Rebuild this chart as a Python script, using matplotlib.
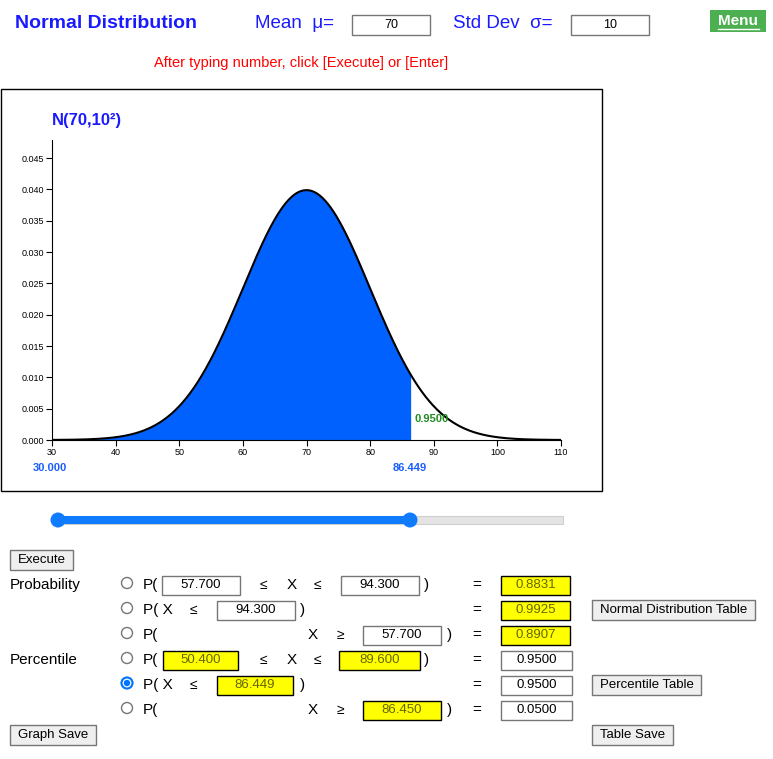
import numpy as np
import matplotlib
matplotlib.use("Agg")
import matplotlib.pyplot as plt
from matplotlib.patches import Rectangle, Circle

plt.rcParams['font.family'] = ['Liberation Sans', 'DejaVu Sans']

mu = 70
sigma = 10
x_lo = 30.000
x_hi = 86.449
prob_label = "0.9500"
xticks = [30, 40, 50, 60, 70, 80, 90, 100, 110]
yticks = [0.000, 0.005, 0.010, 0.015, 0.020, 0.025, 0.030, 0.035, 0.040, 0.045]
rows = [  # (y, parts)
    585, 610, 635, 660, 685, 710]

W, H = 773, 759
fig = plt.figure(figsize=(W/100, H/100), dpi=100)
bg = fig.add_axes([0, 0, 1, 1])
bg.set_xlim(0, W); bg.set_ylim(H, 0); bg.axis('off')

BLUE = '#1a1aff'

def box(x0, x1, yc, txt, fill='white', h=19, fs=9.5, tc='black', ec='#767676'):
    bg.add_patch(Rectangle((x0, yc-h/2), x1-x0, h, fc=fill, ec=ec, lw=1))
    bg.text((x0+x1)/2, yc, txt, ha='center', va='center', fontsize=fs, color=tc)

def button(x0, x1, yc, txt, h=20):
    bg.add_patch(Rectangle((x0, yc-h/2), x1-x0, h, fc='#efefef', ec='#767676', lw=1))
    bg.text((x0+x1)/2, yc, txt, ha='center', va='center', fontsize=9.5)

def t(x, y, s, fs=11, c='black', **kw):
    bg.text(x, y, s, fontsize=fs, color=c, va='center', **kw)

# header
t(15, 23, "Normal Distribution", fs=14, c=BLUE, weight='bold')
t(255, 23, "Mean  μ=", fs=13.5, c=BLUE)
box(352, 430, 25, str(mu), h=20, fs=9)
t(453, 23, "Std Dev  σ=", fs=13.5, c=BLUE)
box(571, 649, 25, str(sigma), h=20, fs=9)
bg.add_patch(Rectangle((710, 10), 56, 22, fc='#4caf50', ec='none'))
bg.text(738, 21, "Menu", ha='center', va='center', fontsize=11, color='white', weight='bold')
bg.plot([718, 759], [29, 29], color='white', lw=1)
t(301, 63, "After typing number, click [Execute] or [Enter]", fs=10.5, c='#ff0000', ha='center')

# chart frame
bg.add_patch(Rectangle((1, 89), 601, 402, fc='white', ec='black', lw=1))

ax = fig.add_axes([52/W, 1-440/H, (561-52)/W, 300/H])
ax.set_xlim(30, 110); ax.set_ylim(0, 0.0479)
xs = np.linspace(30, 110, 800)
pdf = np.exp(-0.5*((xs-mu)/sigma)**2)/(sigma*np.sqrt(2*np.pi))
m = (xs >= x_lo) & (xs <= x_hi)
ax.fill_between(xs[m], 0, pdf[m], color='#0061ff', lw=0)
ax.plot(xs, pdf, color='black', lw=1.5)
for s in ['top', 'right']:
    ax.spines[s].set_visible(False)
ax.set_xticks(xticks); ax.set_yticks(yticks)
ax.set_yticklabels([f"{v:.3f}" for v in yticks])
ax.tick_params(labelsize=6.5, length=4, pad=2, colors='black')
ax.set_facecolor('none')
ax.text(86.9, 0.0033, prob_label, color='#228b22', fontsize=8, weight='bold', va='center')

t(52, 120, "N(70,10²)", fs=12, c=BLUE, weight='bold')
t(33, 468, f"{x_lo:.3f}", fs=8, c='#1a5cff', weight='bold')
t(393, 468, f"{x_hi:.3f}", fs=8, c='#1a5cff', weight='bold')

# slider
bg.add_patch(Rectangle((58, 516), 505, 8, fc='#e4e4e4', ec='#cfcfcf', lw=0.8))
bg.add_patch(Rectangle((58, 516), 410-58, 8, fc='#0f7bff', ec='none'))
for cx in (58, 410):
    bg.add_patch(Circle((cx, 520), 7.5, fc='#0f7bff', ec='none'))

# controls
button(10, 73, 560, "Execute")
t(10, 585, "Probability", fs=11)
t(10, 660, "Percentile", fs=11)

def radio(y, on=False):
    bg.add_patch(Circle((127, y-2), 5.5, fc='white', ec='#767676', lw=1))
    if on:
        bg.add_patch(Circle((127, y-2), 5.5, fc='white', ec='#0075ff', lw=1.5))
        bg.add_patch(Circle((127, y-2), 3.2, fc='#0075ff', ec='none'))

Y = '#ffff00'
# row 1
y = rows[0]; radio(y); t(143, y, "P(", fs=11)
box(162, 240, y, "57.700"); t(260, y, "≤", fs=10); t(287, y, "X", fs=11); t(314, y, "≤", fs=10)
box(341, 419, y, "94.300"); t(424, y, ")", fs=11); t(472, y, "=", fs=11)
box(501, 570, y, "0.8831", fill=Y, tc='#666600', ec='black')
# row 2
y = rows[1]; radio(y); t(143, y, "P( X", fs=11); t(190, y, "≤", fs=10)
box(217, 295, y, "94.300"); t(300, y, ")", fs=11); t(472, y, "=", fs=11)
box(501, 570, y, "0.9925", fill=Y, tc='#666600', ec='black')
button(592, 755, y, "Normal Distribution Table")
# row 3
y = rows[2]; radio(y); t(143, y, "P(", fs=11); t(308, y, "X", fs=11); t(337, y, "≥", fs=10)
box(363, 441, y, "57.700"); t(447, y, ")", fs=11); t(472, y, "=", fs=11)
box(501, 570, y, "0.8907", fill=Y, tc='#666600', ec='black')
# row 4
y = rows[3]; radio(y); t(143, y, "P(", fs=11)
box(163, 238, y, "50.400", fill=Y, tc='#666600', ec='black'); t(260, y, "≤", fs=10); t(287, y, "X", fs=11); t(314, y, "≤", fs=10)
box(339, 420, y, "89.600", fill=Y, tc='#666600', ec='black'); t(424, y, ")", fs=11); t(472, y, "=", fs=11)
box(501, 572, y, "0.9500")
# row 5
y = rows[4]; radio(y, True); t(143, y, "P( X", fs=11); t(190, y, "≤", fs=10)
box(217, 293, y, "86.449", fill=Y, tc='#666600', ec='black'); t(300, y, ")", fs=11); t(472, y, "=", fs=11)
box(501, 572, y, "0.9500")
button(592, 701, y, "Percentile Table")
# row 6
y = rows[5]; radio(y); t(143, y, "P(", fs=11); t(308, y, "X", fs=11); t(337, y, "≥", fs=10)
box(363, 441, y, "86.450", fill=Y, tc='#666600', ec='black'); t(447, y, ")", fs=11); t(472, y, "=", fs=11)
box(501, 572, y, "0.0500")

button(10, 96, 735, "Graph Save")
button(592, 673, 735, "Table Save")

fig.savefig("out.png", dpi=100)
